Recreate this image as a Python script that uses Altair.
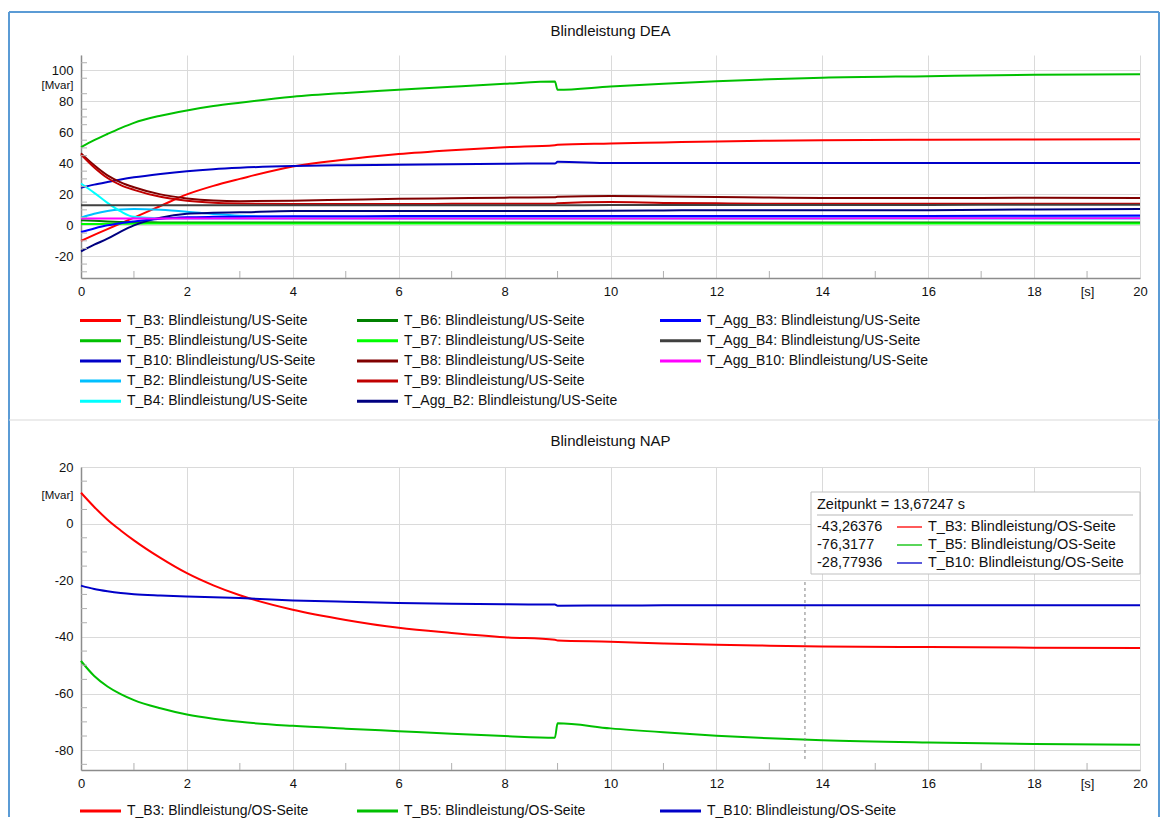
import altair as alt
import pandas as pd

# ---------------- data ----------------
T = [0, 0.25, 0.5, 0.75, 1, 1.5, 2, 2.5, 3, 4, 5, 6, 7, 8, 8.95, 9.0, 10, 11, 12, 13, 14, 16, 18, 20]

dea_title = "Blindleistung DEA"
nap_title = "Blindleistung NAP"
dea_suffix = ": Blindleistung/US-Seite"
nap_suffix = ": Blindleistung/OS-Seite"

dea_names = ["T_B3", "T_B5", "T_B10", "T_B2", "T_B4", "T_B6", "T_B7", "T_B8", "T_B9",
             "T_Agg_B2", "T_Agg_B3", "T_Agg_B4", "T_Agg_B10"]
dea_colors = ["#FF0000", "#00C000", "#0000C8", "#00C0FF", "#00FFFF", "#008000", "#00FF00",
              "#800000", "#C00000", "#000080", "#0000FF", "#404040", "#FF00FF"]

dea_b3 = [-10, -6.2, -2.4, 1.3, 5, 12.5, 20, 25.5, 30, 38, 42.5, 46, 48.5, 50.5, 51.8, 52, 52.8, 53.5, 54.2, 54.7, 55, 55.3, 55.5, 55.6]
dea_b5 = [50.5, 55, 59, 62.8, 66.2, 70.8, 74.2, 77, 79.2, 83, 85.5, 87.5, 89.5, 91.4, 92.9, 87.5, 89.7, 91.5, 93, 94.3, 95.3, 96.3, 97.2, 97.6]
dea_b10 = [24.3, 26.3, 28, 29.6, 31, 33.2, 35, 36.3, 37.2, 38.3, 38.8, 39.1, 39.5, 39.8, 40, 41, 40.3, 40.2, 40.2, 40.2, 40.2, 40.2, 40.2, 40.2]
dea_b2 = [5, 7.5, 9.3, 10.3, 10.6, 10, 8.8, 7.3, 6.2, 5.5, 5.3, 5.3, 5.3, 5.3, 5.3, 5.3, 5.3, 5.3, 5.3, 5.3, 5.3, 5.3, 5.3, 5.3]
dea_b4 = [27, 21, 14.5, 9, 5.5, 4.6, 4.5, 4.5, 4.5, 4.5, 4.5, 4.5, 4.5, 4.5, 4.5, 4.5, 4.5, 4.5, 4.5, 4.5, 4.5, 4.5, 4.5, 4.5]
dea_b6 = [3.3, 2.9, 2.5, 2.2, 2.0, 1.9, 1.8, 1.8, 1.8, 1.8, 1.8, 1.8, 1.8, 1.8, 1.8, 1.8, 1.8, 1.8, 1.8, 1.8, 1.8, 1.8, 1.8, 1.8]
dea_b7 = [0.8, 0.9, 1.0, 1.1, 1.1, 1.2, 1.2, 1.2, 1.2, 1.2, 1.2, 1.2, 1.2, 1.2, 1.2, 1.2, 1.2, 1.2, 1.2, 1.2, 1.2, 1.2, 1.2, 1.2]
dea_b8 = [46.5, 38.8, 32.3, 27.8, 24.6, 20, 17.4, 16, 15.6, 15.9, 16.5, 17.1, 17.5, 17.9, 18.1, 18.4, 18.9, 18.6, 18.3, 18, 17.7, 17.6, 17.8, 17.6]
dea_b9 = [45.8, 37.4, 30.6, 26, 22.9, 18.4, 15.9, 14.6, 14.1, 13.8, 13.8, 13.8, 13.9, 14, 14, 14.3, 15, 14.5, 14.2, 14, 14, 14, 14, 14]
dea_agg_b2 = [-16.8, -12.5, -8.6, -4, 0, 5, 7.5, 8.1, 8.4, 9.2, 9.2, 9.2, 9.2, 9.2, 9.3, 9.3, 9.4, 9.6, 9.8, 9.8, 9.8, 9.8, 10.3, 10.5]
dea_agg_b3 = [-4.3, -2, 0, 1.4, 2.5, 4.3, 5.2, 5.5, 5.6, 5.8, 5.9, 6, 6, 6, 6, 6, 6, 6, 6, 6, 6, 6, 6.2, 6.4]
dea_agg_b4 = [13, 13, 13, 13, 13, 13, 13, 13, 13, 13, 13, 13, 13, 13, 13, 13, 13.1, 13.1, 13.2, 13.2, 13.2, 13.2, 13.3, 13.3]
dea_agg_b10 = [4.5, 4.5, 4.5, 4.5, 4.5, 4.5, 4.5, 4.5, 4.5, 4.5, 4.5, 4.5, 4.5, 4.5, 4.5, 4.5, 4.5, 4.5, 4.5, 4.5, 4.5, 4.6, 4.6, 4.6]

nap_names = ["T_B3", "T_B5", "T_B10"]
nap_colors = ["#FF0000", "#00C000", "#0000C8"]
nap_b3 = [10.9, 5.9, 1.4, -2.4, -5.9, -12.1, -17.5, -21.8, -25.3, -30.4, -34, -36.8, -38.6, -40.1, -41, -41.3, -41.7, -42.3, -42.8, -43.1, -43.35, -43.6, -43.8, -43.9]
nap_b5 = [-48.5, -53.8, -57.5, -60.2, -62.3, -65.2, -67.4, -68.9, -70, -71.4, -72.4, -73.3, -74.2, -75, -75.6, -70.5, -72.3, -73.7, -74.9, -75.8, -76.5, -77.3, -77.8, -78.1]
nap_b10 = [-21.9, -23.1, -23.9, -24.5, -24.9, -25.35, -25.7, -26, -26.3, -27.1, -27.6, -28, -28.3, -28.5, -28.6, -29, -28.9, -28.85, -28.8, -28.8, -28.78, -28.8, -28.8, -28.8]

cursor_time = 13.67247
cursor_header = "Zeitpunkt = 13,67247 s"
cursor_values = ["-43,26376", "-76,3177", "-28,77936"]

x_tick_values = [0, 2, 4, 6, 8, 10, 12, 14, 16, 18, 20]
dea_y_ticks = [-20, 0, 20, 40, 60, 80, 100]
nap_y_ticks = [-80, -60, -40, -20, 0, 20]

# ---------------- build tables ----------------
dea_series = [dea_b3, dea_b5, dea_b10, dea_b2, dea_b4, dea_b6, dea_b7, dea_b8, dea_b9,
              dea_agg_b2, dea_agg_b3, dea_agg_b4, dea_agg_b10]
nap_series = [nap_b3, nap_b5, nap_b10]


def long_df(names, series):
    rows = []
    for i, (n, vals) in enumerate(zip(names, series)):
        for t, v in zip(T, vals):
            rows.append({"name": n, "t": t, "v": v, "ord": i})
    return pd.DataFrame(rows)


dea_df = long_df(dea_names, dea_series)
nap_df = long_df(nap_names, nap_series)

FONT = "Liberation Sans"
W = 1059
H_TOP = 223
H_BOT = 303
COL_X = [-1, 276, 579]
TXT = "#111111"

x_scale = alt.Scale(domain=[0, 20], nice=False, zero=False)
y_top_scale = alt.Scale(domain=[-34, 110], nice=False, zero=False)
y_bot_scale = alt.Scale(domain=[-87, 20], nice=False, zero=False)
dea_cscale = alt.Scale(domain=dea_names, range=dea_colors)
nap_cscale = alt.Scale(domain=nap_names, range=nap_colors)

X_AXIS = alt.Axis(values=x_tick_values + [19],
                  labelExpr="datum.value == 19 ? '[s]' : '' + datum.value",
                  gridOpacity={"condition": {"test": "datum.value == 19", "value": 0}, "value": 1},
                  gridColor="#DADADA", tickSize=0, domainColor="#8C8C8C", domainWidth=1.5,
                  labelFont=FONT, labelFontSize=13, labelColor=TXT, labelPadding=7,
                  labelFlush=False, title=None)


def y_axis(ticks, unit_val):
    return alt.Axis(values=ticks + [unit_val],
                    labelExpr=f"datum.value == {unit_val} ? '[Mvar]' : '' + datum.value",
                    gridOpacity={"condition": {"test": f"datum.value == {unit_val}", "value": 0}, "value": 1},
                    labelFontSize={"condition": {"test": f"datum.value == {unit_val}", "value": 11.5}, "value": 13},
                    gridColor="#DADADA", tickSize=0, domainColor="#8C8C8C", domainWidth=1.5,
                    labelFont=FONT, labelColor=TXT, labelPadding=8, labelFlush=False, title=None)


def lines(df, yscale, yaxis, cscale):
    return alt.Chart(df).mark_line(strokeWidth=2, interpolate="monotone").encode(
        x=alt.X("t:Q", scale=x_scale, axis=X_AXIS),
        y=alt.Y("v:Q", scale=yscale, axis=yaxis),
        color=alt.Color("name:N", scale=cscale, legend=None),
        order=alt.Order("ord:Q"),
    )


def minor_ticks(yscale, yaxis, yminor, height):
    xminor = [v for v in range(1, 20) if v % 2 == 1]
    ym = alt.Chart(pd.DataFrame({"v": yminor})).mark_rule(color="#B0B0B0", strokeWidth=1).encode(
        y=alt.Y("v:Q", scale=yscale, axis=yaxis), x=alt.value(0), x2=alt.value(6))
    xm = alt.Chart(pd.DataFrame({"t": xminor})).mark_rule(color="#B0B0B0", strokeWidth=1).encode(
        x=alt.X("t:Q", scale=x_scale, axis=X_AXIS), y=alt.value(height - 7), y2=alt.value(height))
    return [ym, xm]


one = pd.DataFrame({"a": [0]})


def txt_layer(text, x, y, size=14, align="left"):
    return alt.Chart(pd.DataFrame({"txt": [text]})).mark_text(
        align=align, baseline="middle", font=FONT, fontSize=size, color=TXT).encode(
        x=alt.value(x), y=alt.value(y), text="txt:N")


def seg_layer(x1, x2, y, color, width):
    return alt.Chart(one).mark_rule(color=color, strokeWidth=width).encode(
        x=alt.value(x1), x2=alt.value(x2), y=alt.value(y))


def vseg_layer(x, y1, y2, color, width):
    return alt.Chart(one).mark_rule(color=color, strokeWidth=width).encode(
        x=alt.value(x), y=alt.value(y1), y2=alt.value(y2))


def legend_layers(names, colors, suffix, positions):
    out = []
    for n, c, (x, y) in zip(names, colors, positions):
        out.append(seg_layer(x, x + 41, y, c, 3))
        out.append(txt_layer(n + suffix, x + 47, y, 14))
    return out


dea_pos = [(COL_X[i // 5], 265.5 + 20.2 * (i % 5)) for i in range(len(dea_names))]
nap_pos = [(COL_X[i], 344) for i in range(len(nap_names))]

dea_minor_y = [v for v in range(-30, 110, 5) if v % 20 != 0 and v != 90]
nap_minor_y = [v for v in range(-85, 20, 5) if v % 20 != 0 and v != 10]

dea_yaxis = y_axis(dea_y_ticks, 90)
nap_yaxis = y_axis(nap_y_ticks, 10)

FRAME_BOTTOM = 762
FRAME_LEFT = -72
FRAME_RIGHT = 1078

top = alt.layer(
    lines(dea_df, y_top_scale, dea_yaxis, dea_cscale),
    *minor_ticks(y_top_scale, dea_yaxis, dea_minor_y, H_TOP),
    *legend_layers(dea_names, dea_colors, dea_suffix, dea_pos),
    txt_layer(dea_title, W / 2, -24, 15, "center"),
    vseg_layer(FRAME_LEFT, -43, FRAME_BOTTOM, "#5B9BD5", 2),
    vseg_layer(FRAME_RIGHT, -43, FRAME_BOTTOM, "#5B9BD5", 2),
    seg_layer(FRAME_LEFT, FRAME_RIGHT, -43, "#5B9BD5", 2),
    seg_layer(FRAME_LEFT, FRAME_RIGHT, 365, "#D9D9D9", 1),
).properties(width=W, height=H_TOP)

# cursor line and value box in the bottom plot
cursor_rule = alt.Chart(pd.DataFrame({"t": [cursor_time]})).mark_rule(
    color="#808080", strokeWidth=1, strokeDash=[3, 3]).encode(
    x=alt.X("t:Q", scale=x_scale, axis=X_AXIS), y=alt.value(115), y2=alt.value(295))
box = alt.Chart(one).mark_rect(fill="white", stroke="#BFBFBF", strokeWidth=1).encode(
    x=alt.value(730), x2=alt.value(1059), y=alt.value(25), y2=alt.value(107))
tip_layers = [box, txt_layer(cursor_header, 736, 38, 14.5), seg_layer(736, 1052, 48, "#CFCFCF", 1.5)]
for i, (n, c, val) in enumerate(zip(nap_names, nap_colors, cursor_values)):
    ty = 60 + 18 * i
    tip_layers.append(txt_layer(val, 736, ty, 14.5))
    tip_layers.append(seg_layer(816, 841, ty, c, 1.3))
    tip_layers.append(txt_layer(n + nap_suffix, 847, ty, 14.5))

bottom = alt.layer(
    lines(nap_df, y_bot_scale, nap_yaxis, nap_cscale),
    *minor_ticks(y_bot_scale, nap_yaxis, nap_minor_y, H_BOT),
    cursor_rule,
    *tip_layers,
    *legend_layers(nap_names, nap_colors, nap_suffix, nap_pos),
    txt_layer(nap_title, W / 2, -26, 15, "center"),
).properties(width=W, height=H_BOT)

chart = alt.vconcat(top, bottom, spacing=189, bounds="flush").properties(
    padding={"left": 0, "top": 3, "right": 0, "bottom": 0}
).configure_view(strokeWidth=0)

chart.save("out.html", embed_options={"renderer": "svg", "actions": False})
